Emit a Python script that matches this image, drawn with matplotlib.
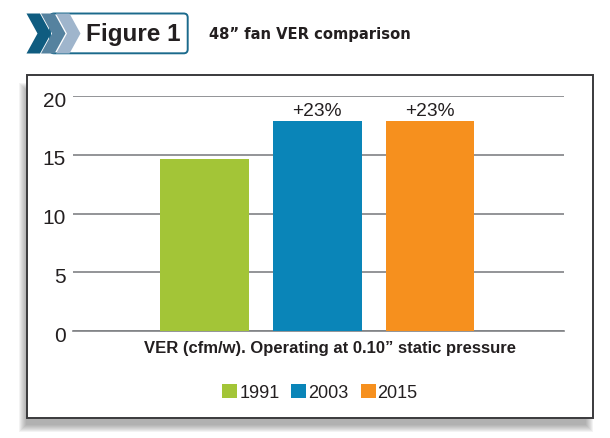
import numpy as np
import matplotlib
matplotlib.use("Agg")
import matplotlib.pyplot as plt
from matplotlib.patches import Polygon, Rectangle, FancyBboxPatch
from matplotlib.transforms import ScaledTranslation

years = ["1991", "2003", "2015"]
ver_values = [14.6, 17.85, 17.85]
bar_labels = ["", "+23%", "+23%"]
bar_colors = ["#a3c537", "#0a85b8", "#f6901e"]
yticks = [0, 5, 10, 15, 20]
chevron_colors = ["#0f5c80", "#55829f", "#9fb5cc"]

W, H = 610, 438
SANS = ["Liberation Sans", "DejaVu Sans"]
INK = "#231f20"

fig = plt.figure(figsize=(W / 100, H / 100), dpi=100, facecolor="white")

# Page layer in pixel coordinates for the header, frame and drop shadow
page = fig.add_axes([0, 0, 1, 1], zorder=0)
page.set_xlim(0, W)
page.set_ylim(H, 0)
page.axis("off")

# Soft shadow built from stacked translucent rectangles
for grow in np.arange(4, -4, -1):
    page.add_patch(Rectangle((23 - grow, 87 - grow), 566 + 2 * grow, 341 + 2 * grow,
                             fc="#555555", ec="none", alpha=0.07))
page.add_patch(Rectangle((26.7, 74.7), 566, 343.3, fc="white", ec="#3a3a3c", lw=1.4))

# Header badge
page.add_patch(FancyBboxPatch((50, 13.5), 137.7, 39.8, boxstyle="round,pad=0,rounding_size=4",
                              fc="white", ec="#1b6a8c", lw=1.4))
for x0, col in zip([26.5, 41, 56], chevron_colors):
    page.add_patch(Polygon([(x0, 13.5), (x0 + 13.5, 13.5), (x0 + 24.5, 33.5), (x0 + 13.5, 53.5),
                            (x0, 53.5), (x0 + 11, 33.5)], closed=True, fc=col, ec="none"))
page.text(85.5, 34.5, "Figure 1", family=SANS, weight="bold", fontsize=17.5, color=INK,
          ha="left", va="center")
page.text(209, 34, "48\u201d fan VER comparison", family="DejaVu Sans", weight="bold",
          fontsize=11.8, color=INK, ha="left", va="center", stretch="condensed")

# Bar chart
ax = fig.add_axes([72.7 / W, 1 - 331 / H, (564 - 72.7) / W, (331 - 96) / H], zorder=1)
ax.patch.set_alpha(0)
xpos = np.arange(len(years))
bars = ax.bar(xpos, ver_values, width=0.786, color=bar_colors, zorder=3)
ax.set_xlim(-1.172, 3.19)
ax.set_ylim(0, 20)
ax.set_yticks(yticks)
ax.set_xticks([])
ax.grid(axis="y", color="#808285", lw=1.2, zorder=1)
ax.set_axisbelow(True)
ax.tick_params(axis="y", length=0, pad=5, labelsize=15, labelcolor=INK)
# tick numbers sit a little under their grid lines
shift = ScaledTranslation(0, -2.2 / 72, fig.dpi_scale_trans)
for lab in ax.get_yticklabels():
    lab.set_family(SANS)
    lab.set_transform(lab.get_transform() + shift)
for side in ax.spines:
    ax.spines[side].set_visible(False)
ax.axhline(0, color="#808285", lw=1.2, clip_on=False, zorder=2)

for b, txt in zip(bars, bar_labels):
    if txt:
        ax.text(b.get_x() + b.get_width() / 2, b.get_height() + 0.08, txt, family=SANS,
                fontsize=13.8, color=INK, ha="center", va="bottom")

page.text(329.5, 348, "VER (cfm/w). Operating at 0.10\u201d static pressure", family=SANS,
          weight="bold", fontsize=12, color=INK, ha="center", va="center")

leg = fig.legend(bars, years, loc="center", bbox_to_anchor=(320 / W, 1 - 393 / H), ncol=3,
                 frameon=False, prop={"family": SANS, "size": 13}, labelcolor=INK,
                 handlelength=0.83, handleheight=0.83, handletextpad=0.11, columnspacing=0.66)

fig.savefig("out.png", dpi=100, facecolor="white")
